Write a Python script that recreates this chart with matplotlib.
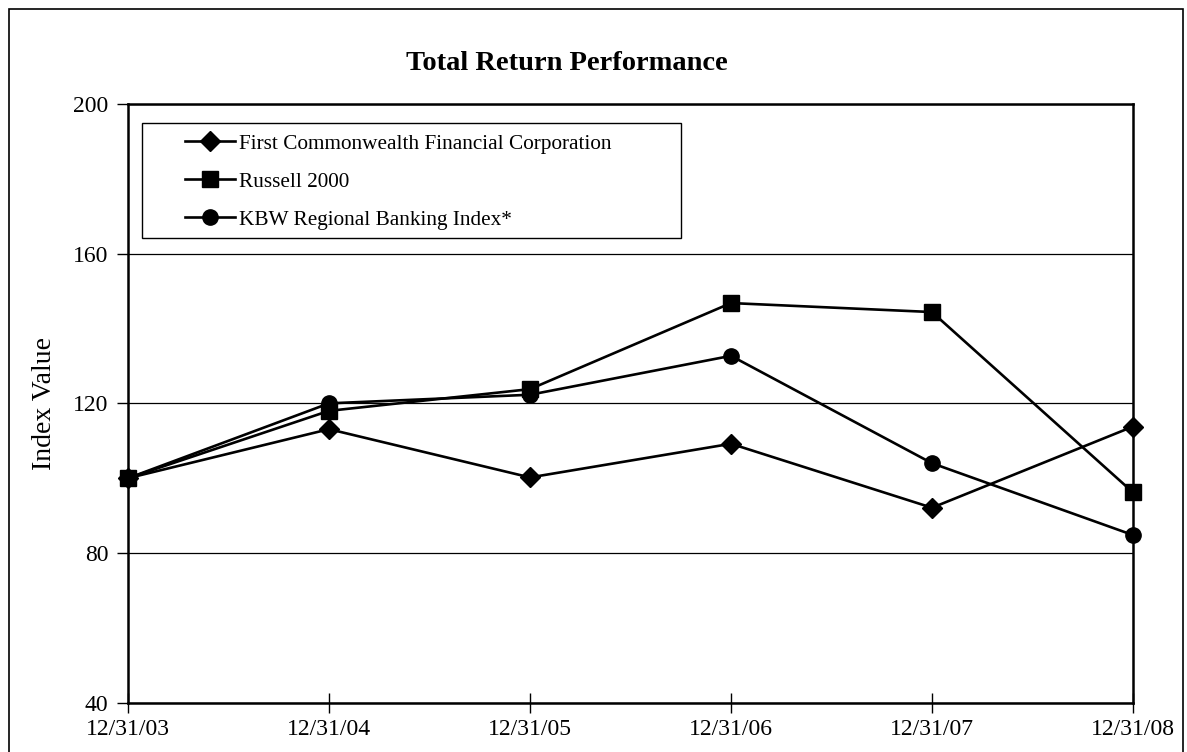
import numpy as np
import matplotlib.pyplot as plt
from matplotlib.patches import Rectangle

plt.rcParams['font.family'] = ['Liberation Serif', 'DejaVu Serif']

dates = ['12/31/03', '12/31/04', '12/31/05', '12/31/06', '12/31/07', '12/31/08']
fcf = [100, 113.1, 100.2, 109.2, 92.1, 113.8]
russell = [100, 118.0, 123.8, 146.8, 144.4, 96.2]
kbw = [100, 120.0, 122.3, 132.7, 104.0, 84.8]

W, H = 1187, 752
fig = plt.figure(figsize=(W / 100, H / 100), dpi=100)

# axes placed from pixel positions of the reference
l, r, t, b = 128, 1133, 104, 702.7
ax = fig.add_axes([l / W, 1 - b / H, (r - l) / W, (b - t) / H])

x = np.arange(len(dates))
ax.plot(x, fcf, color='black', lw=1.9, marker='D', ms=10.5, clip_on=False,
        label='First Commonwealth Financial Corporation')
ax.plot(x, russell, color='black', lw=1.9, marker='s', ms=11, clip_on=False, label='Russell 2000')
ax.plot(x, kbw, color='black', lw=1.9, marker='o', ms=11, clip_on=False, label='KBW Regional Banking Index*')

ax.set_xlim(0, 5)
ax.set_ylim(40, 200)
ax.set_yticks([40, 80, 120, 160, 200])
ax.set_xticks(x)
ax.set_xticklabels(dates)
ax.tick_params(axis='both', labelsize=17, color='black', width=1)
ax.tick_params(axis='x', direction='inout', length=14, pad=5)
ax.tick_params(axis='y', direction='out', length=8, pad=6)
ax.grid(axis='y', color='black', lw=0.9)
for s in ax.spines.values():
    s.set_linewidth(1.8)
ax.set_axisbelow(True)

ax.set_ylabel('Index Value', fontsize=20, labelpad=12)

fig.text(567 / W, 1 - 64 / H, 'Total Return Performance', ha='center', va='center',
         fontsize=20.5, fontweight='bold')

leg = fig.legend(loc='upper left', bbox_to_anchor=(185 / W, 1 - 134 / H), frameon=False,
                 fontsize=15.3, handlelength=2.35, handletextpad=0.2, labelspacing=0.85,
                 borderpad=0, borderaxespad=0)
fig.patches.append(Rectangle((142 / W, 1 - 238 / H), (681 - 142) / W, (238 - 123) / H,
                             transform=fig.transFigure, fill=False, edgecolor='black', lw=1))

# outer frame of the page
fig.patches.append(Rectangle((9 / W, -0.05), (1183 - 9) / W, 1.05 - 9 / H,
                             transform=fig.transFigure, fill=False, edgecolor='black', lw=1.2))

fig.savefig('out.png', dpi=100)
